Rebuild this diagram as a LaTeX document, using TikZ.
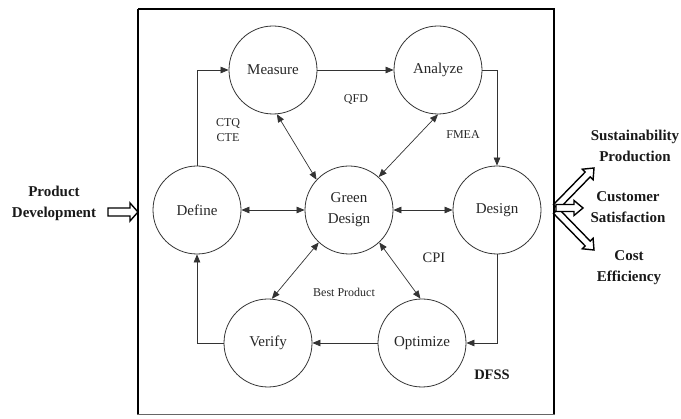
\documentclass[tikz,border=0pt]{standalone}
\usepackage{fontspec}
\setmainfont{Liberation Serif}
\usetikzlibrary{arrows.meta,calc}
\begin{document}
\begin{tikzpicture}[x=1pt,y=-1pt,
  circ/.style={circle,draw=black!80,line width=0.8pt,minimum size=88pt,inner sep=0pt,
    font=\fontsize{15}{21}\selectfont,align=center,text=black!85},
  flow/.style={draw=black!80,line width=0.7pt,-{Triangle[length=8pt,width=6.5pt]}},
  both/.style={draw=black!80,line width=0.7pt,{Triangle[length=8pt,width=6.5pt]}-{Triangle[length=8pt,width=6.5pt]}},
  lbl/.style={font=\fontsize{12}{15}\selectfont,align=center,text=black!85,inner sep=0pt},
  blbl/.style={font=\fontsize{15}{21}\selectfont\bfseries,align=center,text=black!90,inner sep=0pt},
  hollow/.style={draw=black,line width=1.4pt,fill=white,line join=miter}
]
\useasboundingbox (0,0) rectangle (681,419);
% frame
\draw[line width=2.4pt] (138,9) -- (554,9) -- (554,415);
\draw[line width=2.4pt] (138,9) -- (138,415);
\draw[line width=1.6pt,black!60] (137,414.5) -- (555,414.5);

% circles
\node[circ] (M) at (273,70) {Measure};
\node[circ] (A) at (438,70) {Analyze};
\node[circ] (D) at (197,210) {Define};
\node[circ] (G) at (349,210) {Green\\Design};
\node[circ] (S) at (497,210) {Design};
\node[circ] (V) at (268,343) {Verify};
\node[circ] (O) at (422,343) {Optimize};

% cycle
\draw[flow] (D.north) |- (M.west);
\draw[flow] (M.east) -- (A.west);
\draw[flow] (A.east) -| (S.north);
\draw[flow] (S.south) |- (O.east);
\draw[flow] (O.west) -- (V.east);
\draw[flow] (V.west) -| (D.south);

% spokes
\draw[both] (D.east) -- (G.west);
\draw[both] (G.east) -- (S.west);
\draw[both] (M.-85) -- (G.137);
\draw[both] (A.-90) -- (G.48);
\draw[both] (G.227) -- (V.85);
\draw[both] (G.-47) -- (O.92);

% labels
\node[lbl] (ctq) at (228,130) {CTQ\\CTE};
\node[lbl] (qfd) at (356,100) {QFD};
\node[lbl] (fmea) at (463,135) {FMEA};
\node[lbl,font=\fontsize{14.5}{17}\selectfont] (cpi) at (434,258) {CPI};
\node[lbl] (best) at (344,292) {Best Product};
\node[blbl,font=\fontsize{14.5}{17}\selectfont\bfseries] (dfss) at (492,375) {DFSS};

% input
\node[blbl] (pd) at (54,203) {Product\\Development};
\coordinate (inT) at (108,212);
\coordinate (inH) at (138,212);
% outputs
\node[blbl] (sp) at (635,146) {Sustainability\\Production};
\node[blbl] (cs) at (628,207) {Customer\\Satisfaction};
\node[blbl] (ce) at (629,268) {Cost\\Efficiency};
\coordinate (o1T) at (556,207);
\coordinate (o1H) at (594,168);
\coordinate (o2T) at (556,208);
\coordinate (o2H) at (583,208);
\coordinate (o3T) at (556,211);
\coordinate (o3H) at (594,250);

\newcommand\hollowarr[5]{% tail, tip, shaft half, head half, head length
  \coordinate (hc) at ($(#2)!#5!(#1)$);
  \draw[hollow] ($(#1)!#3!90:(#2)$) -- ($(hc)!#3!90:(#2)$) -- ($(hc)!#4!90:(#2)$)
    -- (#2) -- ($(hc)!#4!-90:(#2)$) -- ($(hc)!#3!-90:(#2)$) -- ($(#1)!#3!-90:(#2)$) -- cycle;}
\hollowarr{inT}{inH}{4pt}{9pt}{8pt}
\hollowarr{o1T}{o1H}{3.5pt}{7.5pt}{9pt}
\hollowarr{o3T}{o3H}{3.5pt}{7.5pt}{9pt}
\hollowarr{o2T}{o2H}{3.5pt}{7.5pt}{9pt}
\end{tikzpicture}
\end{document}
